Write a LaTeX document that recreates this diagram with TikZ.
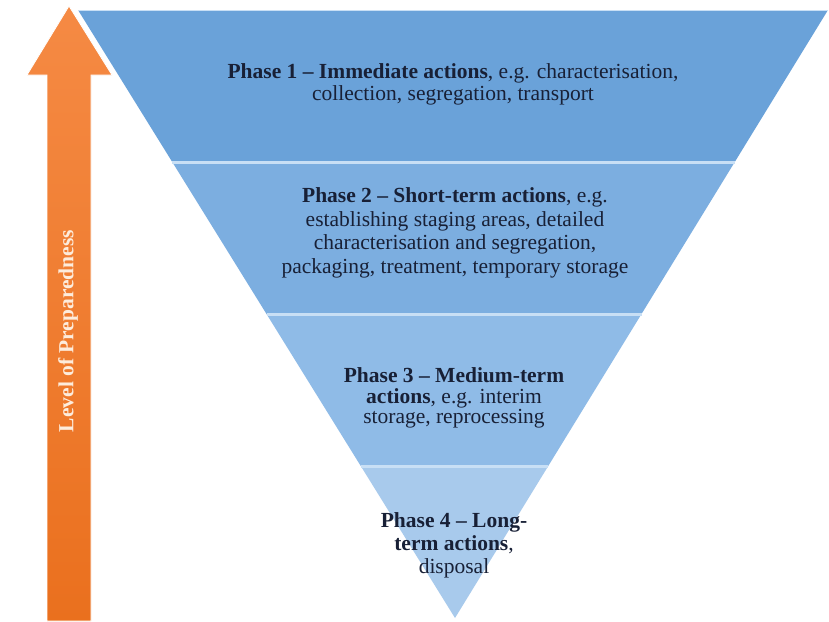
\documentclass[tikz,border=0pt]{standalone}
\usepackage{fontspec}
\setmainfont{Liberation Serif}
\usetikzlibrary{calc}
\definecolor{layerA}{RGB}{106,162,217}
\definecolor{layerB}{RGB}{124,174,224}
\definecolor{layerC}{RGB}{143,187,231}
\definecolor{layerD}{RGB}{168,202,236}
\definecolor{divline}{RGB}{200,223,245}
\definecolor{txtdark}{RGB}{24,32,54}
\definecolor{orgtop}{RGB}{245,138,68}
\definecolor{orgbot}{RGB}{234,112,30}
\definecolor{lbl}{RGB}{253,236,220}
\tikzset{
  phasetext/.style={align=center, text=txtdark, inner sep=0pt},
  layerfill/.style={draw=none}
}
\begin{document}
\begin{tikzpicture}[x=1pt,y=-1pt]
\useasboundingbox (0,0) rectangle (829,621);
\fill[white] (0,0) rectangle (829,621);
% triangle corners
\coordinate (TL) at (78,10);
\coordinate (TR) at (828,10);
\coordinate (AP) at (455,618);
\coordinate (L1) at ($(TL)!0.25!(AP)$);
\coordinate (R1) at ($(TR)!0.25!(AP)$);
\coordinate (L2) at ($(TL)!0.5!(AP)$);
\coordinate (R2) at ($(TR)!0.5!(AP)$);
\coordinate (L3) at ($(TL)!0.75!(AP)$);
\coordinate (R3) at ($(TR)!0.75!(AP)$);
% layers
\fill[layerA] (TL) -- (TR) -- (R1) -- (L1) -- cycle;
\fill[layerB] (L1) -- (R1) -- (R2) -- (L2) -- cycle;
\fill[layerC] (L2) -- (R2) -- (R3) -- (L3) -- cycle;
\fill[layerD] (L3) -- (R3) -- (AP) -- cycle;
% dividers
\draw[divline, line width=3pt] (L1) -- (R1);
\draw[divline, line width=3pt] (L2) -- (R2);
\draw[divline, line width=3pt] (L3) -- (R3);
\draw[divline, line width=1pt] (TL) -- (TR);
% arrow
\coordinate (tip) at (69,6);
\shade[top color=orgtop, bottom color=orgbot, draw=white, line width=0.8pt]
  (tip) -- (112,75) -- (91,75) -- (91,621) -- (47,621) -- (47,75) -- (27,75) -- cycle;
\node[rotate=90, text=lbl, inner sep=0pt, font=\fontsize{21.5}{22}\selectfont\bfseries] (prep) at (68,331) {Level of Preparedness};
% texts
\node[phasetext, font=\fontsize{21.5}{22}\selectfont] (p1) at (453,84)
  {\textbf{Phase 1 – Immediate actions}, e.g. characterisation,\\ collection, segregation, transport};
\node[phasetext, font=\fontsize{21.5}{23.5}\selectfont] (p2) at (455,233)
  {\textbf{Phase 2 – Short-term actions}, e.g.\\ establishing staging areas, detailed\\ characterisation and segregation,\\ packaging, treatment, temporary storage};
\node[phasetext, font=\fontsize{21.5}{20.5}\selectfont] (p3) at (454,398)
  {\textbf{Phase 3 – Medium-term}\\ \textbf{actions}, e.g. interim\\ storage, reprocessing};
\node[phasetext, font=\fontsize{21.5}{23}\selectfont] (p4) at (454,545)
  {\textbf{Phase 4 – Long-}\\ \textbf{term actions},\\ disposal};
\end{tikzpicture}
\end{document}
